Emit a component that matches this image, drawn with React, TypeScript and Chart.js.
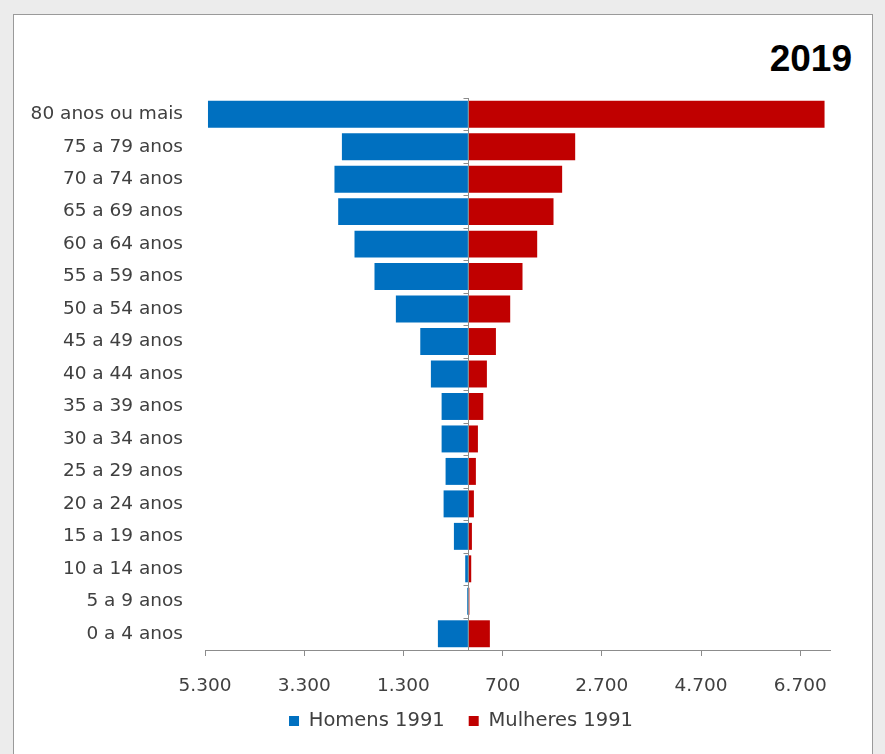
import React, { useEffect, useRef } from "react";
import { Chart, registerables } from "chart.js";

Chart.register(...registerables);

const categories = [
  "80 anos ou mais",
  "75 a 79 anos",
  "70 a 74 anos",
  "65 a 69 anos",
  "60 a 64 anos",
  "55 a 59 anos",
  "50 a 54 anos",
  "45 a 49 anos",
  "40 a 44 anos",
  "35 a 39 anos",
  "30 a 34 anos",
  "25 a 29 anos",
  "20 a 24 anos",
  "15 a 19 anos",
  "10 a 14 anos",
  "5 a 9 anos",
  "0 a 4 anos",
];

const homens = [5240, 2540, 2690, 2615, 2286, 1883, 1452, 960, 746, 530, 530, 450, 490, 282, 54, 15, 605];
const mulheres = [7190, 2163, 1900, 1726, 1397, 1101, 853, 565, 383, 310, 202, 161, 121, 81, 67, 30, 443];

const xTickValues = [-5300, -3300, -1300, 700, 2700, 4700, 6700];
const xMin = -5300;
const xMax = 7300;

const seriesNames = ["Homens 1991", "Mulheres 1991"];
const titleText = "2019";

const FONT = "'DejaVu Sans', sans-serif";

const fmt = (v: number) =>
  Math.abs(v)
    .toString()
    .replace(/\B(?=(\d{3})+(?!\d))/g, ".");

const centerAxisPlugin = {
  id: "centerAxis",
  afterDatasetsDraw(chart: any) {
    const { ctx, chartArea, scales } = chart;
    const x0 = Math.round(scales.x.getPixelForValue(0)) + 0.5;
    ctx.save();
    ctx.strokeStyle = "#8c8c8c";
    ctx.lineWidth = 1;
    ctx.beginPath();
    ctx.moveTo(x0, chartArea.top);
    ctx.lineTo(x0, chartArea.bottom);
    const n = categories.length;
    const step = (chartArea.bottom - chartArea.top) / n;
    for (let i = 0; i <= n; i++) {
      const y = Math.round(chartArea.top + i * step) + 0.5;
      ctx.moveTo(x0 - 5, y);
      ctx.lineTo(x0, y);
    }
    ctx.stroke();
    ctx.restore();
  },
};

// shift the legend box so it is centred like the reference
const legendShiftPlugin = {
  id: "legendShift",
  afterLayout(chart: any) {
    const lg = chart.legend;
    if (!lg) return;
    lg.left += 46;
    lg.right += 46;
    lg.top -= 10.75;
    lg.bottom -= 10.75;
  },
};

export default function App() {
  const canvasRef = useRef<HTMLCanvasElement | null>(null);

  useEffect(() => {
    const canvas = canvasRef.current;
    if (!canvas) return;
    const chart = new Chart(canvas, {
      type: "bar",
      data: {
        labels: categories,
        datasets: [
          {
            label: seriesNames[0],
            data: homens.map((v) => -v),
            backgroundColor: "#0070C0",
            borderWidth: 0,
          },
          {
            label: seriesNames[1],
            data: mulheres,
            backgroundColor: "#C00000",
            borderWidth: 0,
          },
        ],
      },
      options: {
        indexAxis: "y",
        responsive: false,
        maintainAspectRatio: false,
        animation: false,
        layout: { padding: { top: 98, right: 55, left: 0, bottom: 2.5 } },
        datasets: {
          bar: { barPercentage: 0.83, categoryPercentage: 1 },
        },
        scales: {
          x: {
            stacked: true,
            min: xMin,
            max: xMax,
            afterBuildTicks: (scale: any) => {
              scale.ticks = xTickValues.map((v) => ({ value: v }));
            },
            afterFit: (scale: any) => {
              scale.height = 48;
            },
            grid: {
              drawOnChartArea: false,
              drawTicks: true,
              tickLength: 6,
              color: "#8c8c8c",
            },
            border: { display: true, color: "#8c8c8c" },
            ticks: {
              color: "#404040",
              padding: 19,
              font: { family: FONT, size: 18.5 },
              callback: (v: any) => fmt(Number(v)),
              maxRotation: 0,
            },
          },
          y: {
            stacked: true,
            afterFit: (scale: any) => {
              scale.width = 205;
            },
            grid: { display: false, drawTicks: false },
            border: { display: false },
            ticks: {
              color: "#404040",
              padding: 22,
              font: { family: FONT, size: 18.5 },
            },
          },
        },
        plugins: {
          legend: {
            position: "bottom",
            labels: {
              boxWidth: 10,
              boxHeight: 10,
              padding: 24,
              color: "#404040",
              font: { family: FONT, size: 19.5 },
            },
          },
          tooltip: { enabled: false },
          title: { display: false },
        },
      },
      plugins: [centerAxisPlugin, legendShiftPlugin],
    });
    return () => chart.destroy();
  }, []);

  return (
    <div
      style={{
        position: "fixed",
        left: 0,
        top: 0,
        width: 885,
        height: 754,
        background: "#ececec",
        overflow: "hidden",
      }}
    >
      <div
        style={{
          position: "absolute",
          left: 13,
          top: 14,
          width: 858,
          height: 760,
          background: "#ffffff",
          border: "1px solid #9a9a9a",
        }}
      />
      <div
        style={{
          position: "absolute",
          right: 33,
          top: 36,
          fontFamily: "'Liberation Sans', Arial, sans-serif",
          fontWeight: "bold",
          fontSize: 37,
          color: "#000",
          lineHeight: "46px",
        }}
      >
        {titleText}
      </div>
      <canvas
        ref={canvasRef}
        width={885}
        height={754}
        style={{ position: "absolute", left: 0, top: 0 }}
      />
    </div>
  );
}
